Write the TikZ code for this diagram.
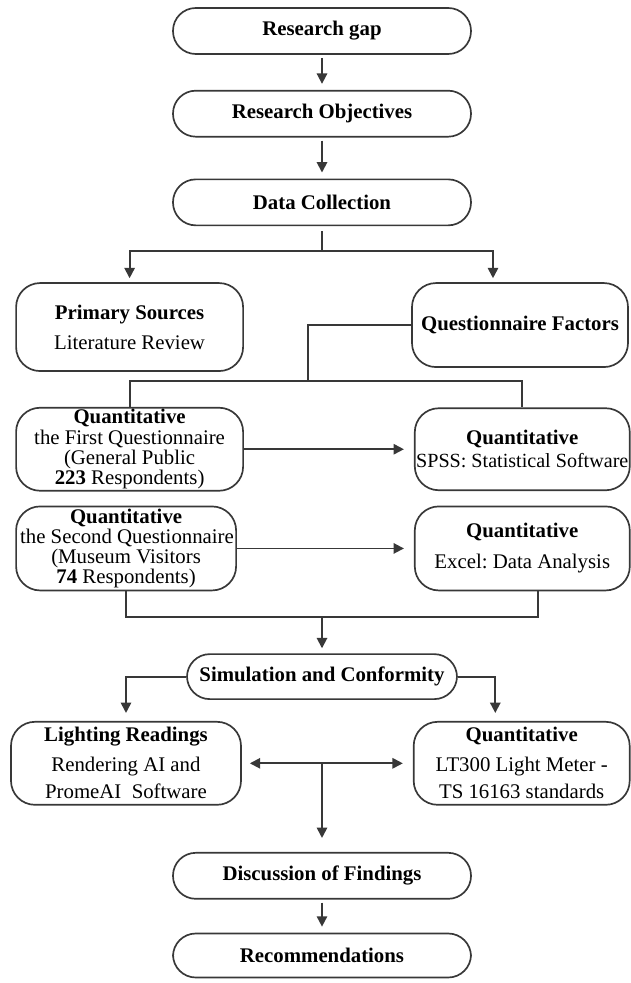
\documentclass[tikz,border=0pt]{standalone}
\usepackage{fontspec}
\setmainfont{Liberation Serif}
\usetikzlibrary{positioning,arrows.meta}
\definecolor{ink}{HTML}{383838}
\newcommand\boxfont{\fontsize{14.8}{14.4}\selectfont\frenchspacing}

\begin{document}
\begin{tikzpicture}[
  stage/.style={draw=ink,line width=1.2pt,rounded corners=5.7mm,align=flush center,minimum width=74.5mm,minimum height=11.5mm,inner sep=0pt,font=\boxfont\bfseries},
  panel/.style={draw=ink,line width=1.2pt,rounded corners=6mm,align=flush center,inner xsep=1mm,inner ysep=0pt,minimum height=21mm,font=\boxfont},
  link/.style={draw=ink,line width=1.3pt},
  arr/.style={link,-{Triangle[length=2.6mm,width=2.6mm]}},
  arr2/.style={link,{Triangle[length=2.6mm,width=2.6mm]}-{Triangle[length=2.6mm,width=2.6mm]}}
]
\useasboundingbox (-80.5mm,7.75mm) rectangle (77mm,-238mm);
\node[stage] (gap) {Research gap};
\node[stage,below=8.75mm of gap] (obj) {Research Objectives};
\node[stage,below=10.25mm of obj] (coll) {Data Collection};
\node[panel,text width=54.75mm,minimum height=22mm,below=14mm of coll,xshift=-48.1mm] (prim) {\textbf{Primary Sources}\\[2.4mm]Literature Review};
\node[panel,text width=52mm,below=14mm of coll,xshift=49.5mm] (qf) {\textbf{Questionnaire Factors}};
\node[panel,text width=54.75mm,minimum height=20.75mm,below=8.75mm of prim] (q1) {\textbf{Quantitative}\\the First Questionnaire\\(General Public\\\textbf{223} Respondents)};
\node[panel,text width=53.75mm,inner xsep=0pt,minimum height=20.5mm,right=42.5mm of q1] (spss) {\textbf{Quantitative}\\[0.7mm]\mbox{\fontsize{14.3}{14.4}\selectfont SPSS: Statistical Software}};
\node[panel,text width=53mm,below right=3.5mm and 0mm of q1.south west] (q2) {\textbf{Quantitative}\\\mbox{the Second Questionnaire}\\(Museum Visitors\\\textbf{74} Respondents)};
\node[panel,text width=51.75mm,right=44.25mm of q2] (excel) {\textbf{Quantitative}\\[2.7mm]Excel: Data Analysis};
\coordinate[below=6.5mm of q2.south] (low);
\coordinate (join) at (low -| coll.south);
\node[stage,minimum width=67.5mm,minimum height=11.25mm,below=9mm of join] (sim) {Simulation and Conformity};
\node[panel,text width=55.5mm,minimum height=20.75mm,below=5.25mm of sim,xshift=-49mm] (light) {\textbf{Lighting Readings}\\[2.4mm]Rendering AI and\\[1.7mm]PromeAI\ \ Software};
\node[panel,text width=52mm,minimum height=20.75mm,right=42.75mm of light] (meter) {\textbf{Quantitative}\\[2.4mm]LT300 Light Meter -\\[1.7mm]TS 16163 standards};
\node[stage,below=38mm of sim] (disc) {Discussion of Findings};
\node[stage,minimum height=11mm,below=8.25mm of disc] (rec) {Recommendations};

\draw[arr,shorten <=0.75mm,shorten >=1.5mm] (gap) -- (obj);
\draw[arr,shorten <=0.75mm,shorten >=1.5mm] (obj) -- (coll);
\draw[link] ([yshift=-1.25mm]coll.south) -- ++(0,-5mm) coordinate (split);
\draw[arr,shorten >=1mm] (split) -| (prim.north);
\draw[arr,shorten >=1mm] (split) -| ([xshift=-6.75mm]qf.north);
\draw[link] (qf.west) -| ++(-25.75mm,-14mm) coordinate (fork);
\draw[link] (fork) -| (q1.north);
\draw[link] (fork) -| (spss.north);
\draw[arr,shorten >=2.5mm] (q1) -- (spss);
\draw[arr,shorten >=2.5mm] (q2) -- (excel);
\draw[link] (q2.south) -- (low) -| ([xshift=3.9mm]excel.south);
\draw[arr,shorten >=1.25mm] (join) -- (sim);
\draw[arr,shorten >=2mm] (sim.west) -| (light.north);
\draw[arr,shorten >=2mm] (sim.east) -| ([xshift=-6.6mm]meter.north);
\draw[arr2,shorten <=2mm,shorten >=2.5mm] (light) -- (meter);
\draw[arr,shorten >=3.5mm] (light.east -| disc.north) -- (disc.north);
\draw[arr,shorten <=0.75mm,shorten >=1.5mm] (disc) -- (rec);
\end{tikzpicture}
\end{document}
